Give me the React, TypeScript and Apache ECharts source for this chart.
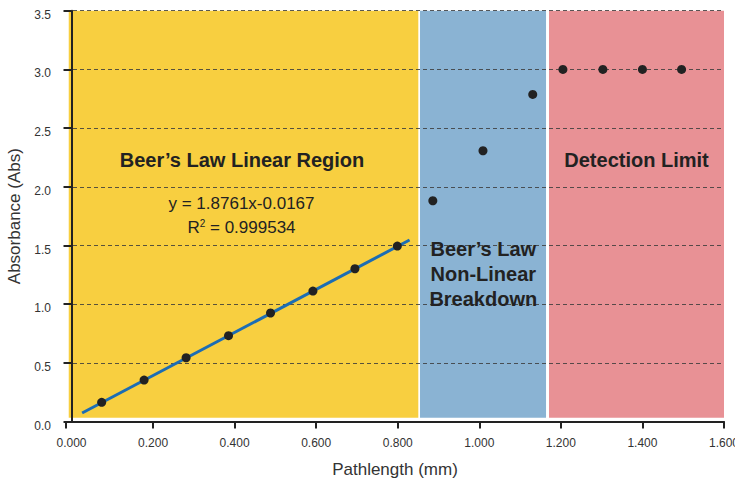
import React, { useEffect, useRef } from "react";
import * as echarts from "echarts";

const linearX = [0.074, 0.178, 0.281, 0.385, 0.488, 0.592, 0.695, 0.799];
const linearY = [0.164, 0.354, 0.544, 0.732, 0.925, 1.112, 1.302, 1.495];
const breakdownX = [0.886, 1.009, 1.131];
const breakdownY = [1.881, 2.307, 2.787];
const limitX = [1.205, 1.303, 1.4, 1.496];
const limitY = [3.0, 3.0, 3.0, 3.0];
const fitX = [0.026, 0.829];
const fitY = [0.073, 1.547];

const regionNames = ["linear", "breakdown", "limit"];
const regionStart = [-0.0068, 0.8546, 1.1709];
const regionEnd = [0.8504, 1.1636, 1.6];
const regionBottom = 0.033;
const regionTop = 3.5;
const regionColors = ["#F8CF40", "#8AB3D3", "#E89195"];

const xTickLabels = [0, 0.2, 0.4, 0.6, 0.8, 1.0, 1.2, 1.4, 1.6];
const xMin = -0.0135;
const xMax = 1.6;
const yMin = 0;
const yMax = 3.5;
const yStep = 0.5;

const FONT = "Liberation Sans, Arial, Helvetica, sans-serif";
const TEXT = "#222";

export default function App() {
  const ref = useRef<HTMLDivElement>(null);
  useEffect(() => {
    document.body.style.margin = "0";
    const chart = echarts.init(ref.current!, null, { renderer: "svg" });
    const points = [
      ...linearX.map((x, i) => [x, linearY[i]]),
      ...breakdownX.map((x, i) => [x, breakdownY[i]]),
      ...limitX.map((x, i) => [x, limitY[i]]),
    ];
    const titleStyle = { fontFamily: FONT, fontSize: 20, fontWeight: "bold", fill: TEXT, align: "center", verticalAlign: "middle" };
    const eqStyle = { fontFamily: FONT, fontSize: 17, fill: TEXT, align: "center", verticalAlign: "middle" };
    chart.setOption({
      animation: false,
      grid: { left: 66, right: 11, top: 10.7, bottom: 56.4, containLabel: false, outerBoundsMode: "none" },
      xAxis: {
        type: "value",
        min: xMin,
        max: xMax,
        name: "Pathlength (mm)",
        nameLocation: "middle",
        nameGap: 39,
        nameTextStyle: { fontFamily: FONT, fontSize: 17, color: "#333" },
        axisLine: { show: true, lineStyle: { color: "#222", width: 2 } },
        axisTick: {
          show: true,
          length: 7,
          lineStyle: { color: "#222", width: 2 },
          customValues: [xMin, ...xTickLabels.slice(1)],
        },
        axisLabel: {
          fontFamily: FONT,
          fontSize: 12,
          color: "#333",
          margin: 15,
          customValues: xTickLabels,
          formatter: (v: number) => v.toFixed(3),
        },
        splitLine: { show: false },
      },
      yAxis: {
        type: "value",
        min: yMin,
        max: yMax,
        interval: yStep,
        name: "Absorbance (Abs)",
        nameLocation: "middle",
        nameGap: 41,
        nameTextStyle: { fontFamily: FONT, fontSize: 17, color: "#333" },
        axisLine: { show: true, lineStyle: { color: "#222", width: 2 } },
        axisTick: { show: true, length: 8, lineStyle: { color: "#222", width: 2 } },
        axisLabel: {
          fontFamily: FONT,
          fontSize: 12,
          color: "#333",
          margin: 15,
          verticalAlign: "top",
          lineHeight: 8,
          formatter: (v: number) => v.toFixed(1),
        },
        splitLine: { show: true, lineStyle: { color: "rgba(60,60,60,0.85)", width: 1, type: [4, 3] } },
      },
      series: [
        {
          type: "custom",
          name: "regions",
          z: -1,
          silent: true,
          data: regionNames.map((n, i) => [regionStart[i], regionEnd[i], regionBottom, regionTop, i]),
          encode: { x: [0, 1], y: [2, 3] },
          renderItem: (params: any, api: any) => {
            const p0 = api.coord([api.value(0), api.value(3)]);
            const p1 = api.coord([api.value(1), api.value(2)]);
            return {
              type: "rect",
              shape: { x: p0[0], y: p0[1], width: p1[0] - p0[0], height: p1[1] - p0[1] },
              style: { fill: regionColors[params.dataIndex] },
            };
          },
        },
        {
          type: "line",
          name: "fit",
          data: fitX.map((x, i) => [x, fitY[i]]),
          symbol: "none",
          lineStyle: { color: "#1c6db4", width: 3 },
          z: 3,
        },
        {
          type: "scatter",
          name: "measurements",
          data: points,
          symbolSize: 9,
          itemStyle: { color: "#222", opacity: 1 },
          z: 4,
        },
      ],
      graphic: [
        { type: "text", x: 242, y: 159.5, z: 10, style: { ...titleStyle, text: "Beer’s Law Linear Region" } },
        { type: "text", x: 241.5, y: 203.5, z: 10, style: { ...eqStyle, text: "y = 1.8761x-0.0167" } },
        {
          type: "text",
          x: 241.5,
          y: 227,
          z: 10,
          style: {
            ...eqStyle,
            text: "R{sup|2} = 0.999534",
            rich: { sup: { fontFamily: FONT, fontSize: 10, fill: TEXT, verticalAlign: "top", padding: [0, 0, 6, 0] } },
          },
        },
        { type: "text", x: 636.5, y: 159.5, z: 10, style: { ...titleStyle, text: "Detection Limit" } },
        {
          type: "text",
          x: 483.3,
          y: 274,
          z: 10,
          style: { ...titleStyle, text: "Beer’s Law\nNon-Linear\nBreakdown", lineHeight: 24.7 },
        },
      ],
    });
    return () => chart.dispose();
  }, []);
  return <div ref={ref} style={{ width: 735, height: 478 }} />;
}
